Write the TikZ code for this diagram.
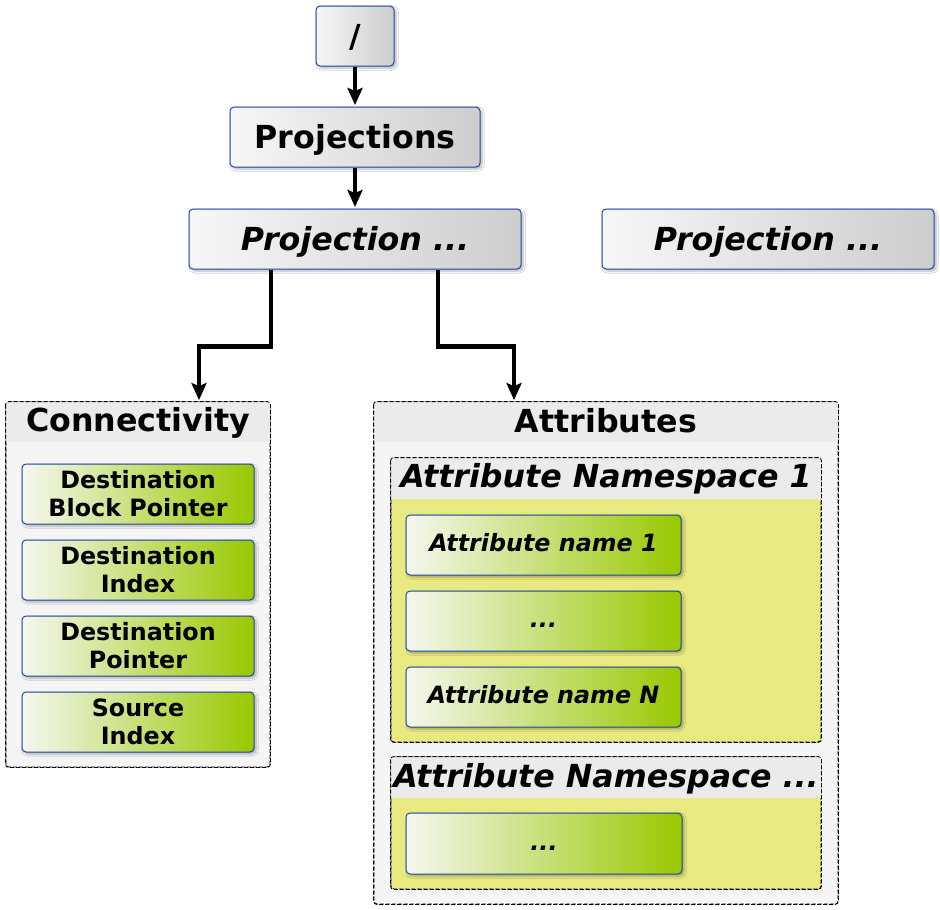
\documentclass[tikz,border=0pt]{standalone}
\usepackage{fontspec}
\setmainfont{DejaVu Sans}
\usetikzlibrary{arrows.meta,shadows.blur,calc}
\definecolor{bordblue}{HTML}{1F47AA}
\definecolor{grayL}{HTML}{F7F7F7}
\definecolor{grayR}{HTML}{CDCDCD}
\definecolor{greenL}{HTML}{F5F7EF}
\definecolor{greenR}{HTML}{99C800}
\definecolor{hdrgray}{HTML}{EBEBEB}
\definecolor{bodygray}{HTML}{F5F5F5}
\definecolor{nsyellow}{HTML}{E9E982}
\newcommand{\bigfont}{\fontsize{31.7}{36}\selectfont\bfseries}
\newcommand{\smallfont}{\fontsize{23.8}{28}\selectfont\bfseries}
\tikzset{
  graybox/.style={draw=bordblue, line width=1pt, rounded corners=4pt,
    left color=grayL, right color=grayR, inner sep=0pt, align=center,
    font=\bigfont, text height=23pt, text depth=0pt,
    blur shadow={shadow blur steps=6, shadow xshift=2pt, shadow yshift=-2pt, shadow opacity=30}},
  greenbox/.style={draw=bordblue, line width=1pt, rounded corners=4pt,
    left color=greenL, right color=greenR, inner sep=0pt, align=center,
    font=\smallfont, minimum height=60pt,
    blur shadow={shadow blur steps=6, shadow xshift=2pt, shadow yshift=-2pt, shadow opacity=30}},
  oneline/.style={text height=18pt, text depth=4.6pt},
  container/.style={draw=black, line width=0.8pt, dash pattern=on 4pt off 2pt,
    rounded corners=3pt, inner sep=0pt},
  ctitle/.style={font=\bigfont, inner sep=0pt, anchor=base},
  arr/.style={line width=4.5pt, shorten >=1.5pt, -{Stealth[length=17pt,width=15pt,inset=3pt]}},
}
\begin{document}
\begin{tikzpicture}[x=1pt,y=-1pt]
\useasboundingbox (0,0) rectangle (940,910);
\fill[white] (0,0) rectangle (940,910);

% top boxes
\node[graybox, minimum width=78pt, minimum height=60pt] (root) at (355,36) {/};
\node[graybox, minimum width=250pt, minimum height=60pt] (projs) at (355,137) {Projections};
\node[graybox, minimum width=332pt, minimum height=60pt] (projA) at (355,239) {\itshape Projection ...};
\node[graybox, minimum width=332pt, minimum height=60pt] (projB) at (768,239) {\itshape Projection ...};

% Connectivity container
\node[container, fill=bodygray, minimum width=264pt, minimum height=365pt] (conn) at (138,584.5) {};
\fill[hdrgray] ([shift={(0.6,0.6)}]conn.north west) rectangle ([shift={(-0.6,40)}]conn.north east);
\draw[container] (conn.north west) rectangle (conn.south east);
\node[ctitle] (conntitle) at (138,431) {Connectivity};
\node[greenbox, minimum width=232pt] (c1) at (138,494) {Destination\\Block Pointer};
\node[greenbox, minimum width=232pt] (c2) at (138,570) {Destination\\Index};
\node[greenbox, minimum width=232pt] (c3) at (138,646) {Destination\\Pointer};
\node[greenbox, minimum width=232pt] (c4) at (138,722) {Source\\Index};

% Attributes container
\node[container, fill=bodygray, minimum width=464pt, minimum height=502pt] (attrs) at (606,653) {};
\fill[hdrgray] ([shift={(0.6,0.6)}]attrs.north west) rectangle ([shift={(-0.6,40)}]attrs.north east);
\draw[container] (attrs.north west) rectangle (attrs.south east);
\node[ctitle] (attrstitle) at (606,432) {Attributes};

% Namespace 1
\node[container, fill=nsyellow, minimum width=430pt, minimum height=284pt] (ns1) at (606,600) {};
\fill[hdrgray] ([shift={(0.6,0.6)}]ns1.north west) rectangle ([shift={(-0.6,41)}]ns1.north east);
\draw[container] (ns1.north west) rectangle (ns1.south east);
\node[ctitle] (ns1title) at (606,487) {\itshape Attribute Namespace 1};
\node[greenbox, oneline, minimum width=275pt] (a1) at (543.5,545) {\itshape Attribute name 1};
\node[greenbox, oneline, minimum width=275pt] (a2) at (543.5,621) {\itshape ...};
\node[greenbox, oneline, minimum width=275pt] (a3) at (543.5,697) {\itshape Attribute name N};

% Namespace ...
\node[container, fill=nsyellow, minimum width=430pt, minimum height=132pt] (ns2) at (606,823) {};
\fill[hdrgray] ([shift={(0.6,0.6)}]ns2.north west) rectangle ([shift={(-0.6,41)}]ns2.north east);
\draw[container] (ns2.north west) rectangle (ns2.south east);
\node[ctitle] (ns2title) at (606,787) {\itshape Attribute Namespace ...};
\node[greenbox, oneline, minimum width=276pt, minimum height=61pt] (b1) at (544,843.5) {\itshape ...};

% connectors
\draw[arr] (root.south) -- (projs.north);
\draw[arr] (projs.south) -- (projA.north);
\draw[arr] ([xshift=-84pt]projA.south) -- ++(0,77) -| ([xshift=61pt]conn.north);
\draw[arr] ([xshift=83pt]projA.south) -- ++(0,77) -| ([xshift=-92pt]attrs.north);
\end{tikzpicture}
\end{document}
